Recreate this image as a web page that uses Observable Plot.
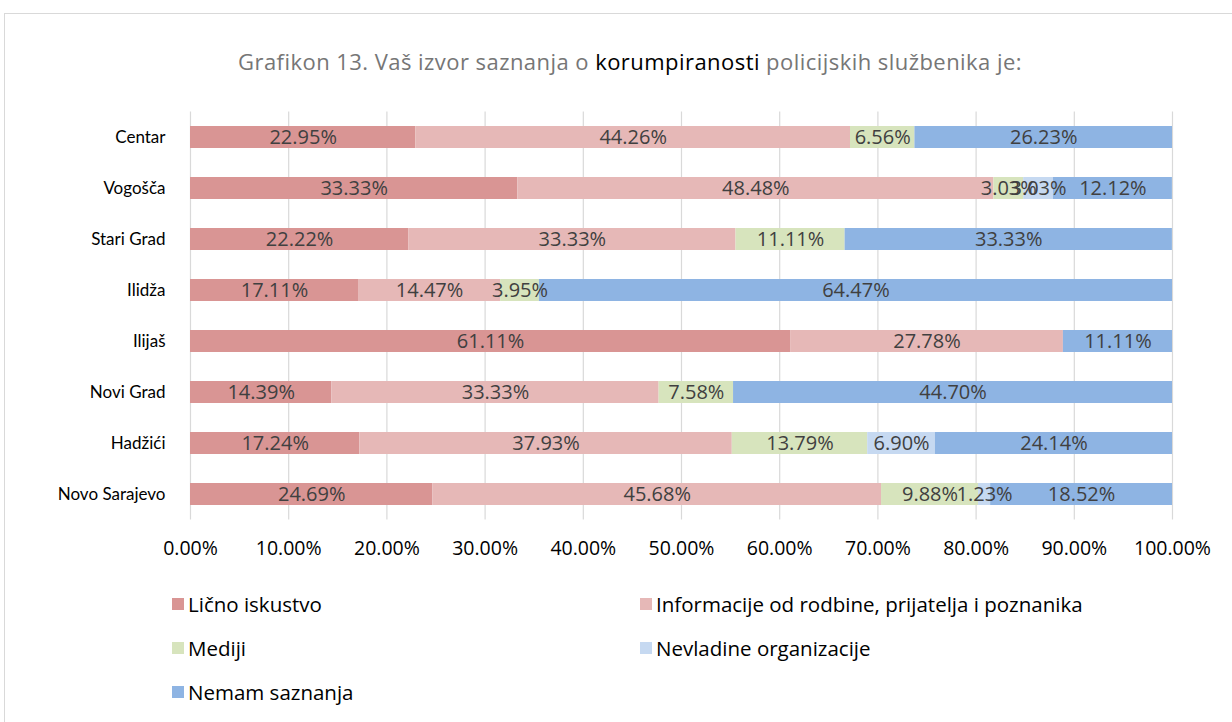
<!DOCTYPE html>
<html>
<head>
<meta charset="utf-8">
<script src="https://cdn.jsdelivr.net/npm/d3@7"></script>
<script src="https://cdn.jsdelivr.net/npm/@observablehq/plot@0.6"></script>
<style>
  body { margin: 0; background: #fff; font-family: "Open Sans", Lato, sans-serif; }
  #wrap { position: relative; width: 1232px; height: 722px; overflow: hidden; }
  #frame { position: absolute; left: 4px; top: 13px; width: 1240px; height: 720px; border: 1.5px solid #d9d9d9; box-sizing: border-box; }
  #title { position: absolute; left: 0; width: 1260px; top: 46px; text-align: center; font-size: 22px; letter-spacing: 0.45px; color: #767676; }
  #title b { font-weight: normal; color: #000; }
  #chart { position: absolute; left: 0; top: 0; }
  .leg { position: absolute; font-size: 20.5px; color: #000; display: flex; align-items: center; }
  .sw { width: 12px; height: 12px; margin-right: 4px; display: inline-block; }
</style>
</head>
<body>
<div id="wrap">
  <div id="frame"></div>
  <div id="title">Grafikon 13. Vaš izvor saznanja o <b>korumpiranosti</b> policijskih službenika je:</div>
  <div id="chart"></div>
  <div id="legend"></div>
</div>
<script>
const cities = ["Centar", "Vogošča", "Stari Grad", "Ilidža", "Ilijaš", "Novi Grad", "Hadžići", "Novo Sarajevo"];
const series = ["Lično iskustvo", "Informacije od rodbine, prijatelja i poznanika", "Mediji", "Nevladine organizacije", "Nemam saznanja"];
const colors = ["#D99594", "#E6B8B7", "#D7E4BD", "#C6D9F1", "#8EB4E3"];
const licno       = [22.95, 33.33, 22.22, 17.11, 61.11, 14.39, 17.24, 24.69];
const informacije = [44.26, 48.48, 33.33, 14.47, 27.78, 33.33, 37.93, 45.68];
const mediji      = [6.56, 3.03, 11.11, 3.95, 0, 7.58, 13.79, 9.88];
const nevladine   = [0, 3.03, 0, 0, 0, 0, 6.90, 1.23];
const nemam       = [26.23, 12.12, 33.33, 64.47, 11.11, 44.70, 24.14, 18.52];
const xTicks = [0, 10, 20, 30, 40, 50, 60, 70, 80, 90, 100];

const seriesValues = [licno, informacije, mediji, nevladine, nemam];
const data = [];
cities.forEach((c, i) => {
  series.forEach((s, j) => {
    const v = seriesValues[j][i];
    if (v > 0) data.push({city: c, series: s, value: v});
  });
});

const fmt = d => d.toFixed(2) + "%";

const chart = Plot.plot({
  width: 1232,
  height: 580,
  marginLeft: 190,
  marginRight: 60,
  marginTop: 111.5,
  marginBottom: 60.5,
  style: {fontFamily: "'Open Sans', Lato, sans-serif", fontSize: "17px", color: "#000", background: "transparent"},
  x: {domain: [0, 100], ticks: xTicks, tickFormat: fmt, label: null},
  y: {domain: cities, label: null, paddingInner: 0.57, paddingOuter: 0.285, align: 0.5},
  color: {domain: series, range: colors},
  marks: [
    Plot.ruleX(xTicks, {stroke: "#d9d9d9", strokeWidth: 1.2}),
    Plot.barX(data, Plot.stackX({x: "value", y: "city", fill: "series", z: "series"})),
    Plot.textX(data, Plot.stackX({x: "value", y: "city", z: "series", text: d => fmt(d.value), fill: "#404040", fontSize: 20})),
    Plot.axisX({ticks: xTicks, tickFormat: fmt, tickSize: 0, tickPadding: 21, fontSize: 19.5, fill: "#000", label: null}),
    Plot.axisY({tickSize: 0, tickPadding: 25, fontSize: 17, fontFamily: "Lato, sans-serif", fill: "#000", label: null})
  ]
});
document.getElementById("chart").appendChild(chart);

const legend = document.getElementById("legend");
const pos = [[172, 604], [640, 604], [172, 648], [640, 648], [172, 692]];
series.forEach((s, j) => {
  const el = document.createElement("div");
  el.className = "leg";
  el.style.left = pos[j][0] + "px";
  el.style.top = (pos[j][1] - 13) + "px";
  el.style.height = "26px";
  el.innerHTML = `<span class="sw" style="background:${colors[j]}"></span><span>${s}</span>`;
  legend.appendChild(el);
});
</script>
</body>
</html>
